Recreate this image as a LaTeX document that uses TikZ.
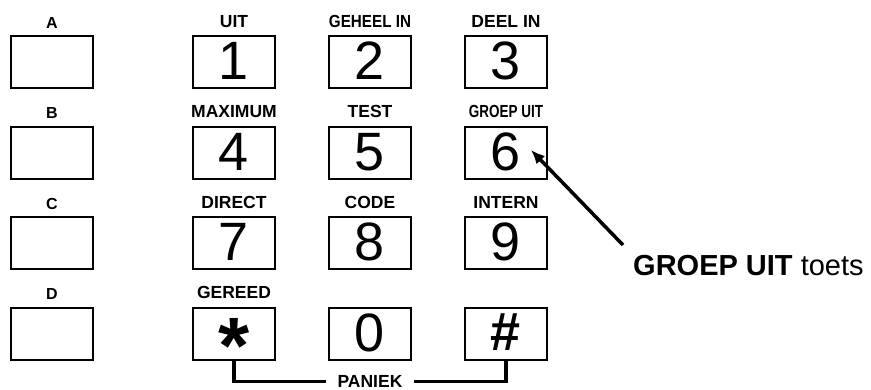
\documentclass[tikz,border=0pt]{standalone}
\usepackage{fontspec}
\setmainfont{Liberation Sans}
\usetikzlibrary{arrows.meta,positioning}

\begin{document}
\begin{tikzpicture}[x=1pt,y=-1pt,>=Latex,
  keybox/.style={draw,line width=2pt,minimum width=82pt,minimum height=52pt,inner sep=0pt,text depth=3pt,font=\fontsize{54}{54}\selectfont},
  keylabel/.style={anchor=base,inner sep=0pt,font=\fontsize{17.5}{18}\selectfont\bfseries},
  letterlabel/.style={anchor=base,inner sep=0pt,font=\fontsize{16}{16}\selectfont\bfseries},
  thickline/.style={line width=3.5pt}]
\useasboundingbox (0,0) rectangle (871,390);
% letter keys
\node[keybox] (kA) at (52,62.5) {};
\node[keybox] (kB) at (52,153) {};
\node[keybox] (kC) at (52,243.5) {};
\node[keybox] (kD) at (52,334) {};
\node[letterlabel] (lA) at ([yshift=7pt]kA.north) {A};
\node[letterlabel] (lB) at ([yshift=7pt]kB.north) {B};
\node[letterlabel] (lC) at ([yshift=7pt]kC.north) {C};
\node[letterlabel] (lD) at ([yshift=7pt]kD.north) {D};
% number keys
\node[keybox] (k1) at (234,62.5) {1};
\node[keybox] (k2) at (370,62.5) {2};
\node[keybox] (k3) at (506,62.5) {3};
\node[keybox] (k4) at (234,153) {4};
\node[keybox] (k5) at (370,153) {5};
\node[keybox] (k6) at (506,153) {6};
\node[keybox] (k7) at (234,243.5) {7};
\node[keybox] (k8) at (370,243.5) {8};
\node[keybox] (k9) at (506,243.5) {9};
\node[keybox,text height=16pt,text depth=16pt] (kstar) at (234,334) {\raisebox{-40pt}{\fontsize{80}{80}\selectfont\bfseries *}};
\node[keybox] (k0) at (370,334) {0};
\node[keybox,font=\fontsize{54}{54}\selectfont\bfseries] (khash) at (506,334) {\#};
% key functions
\node[keylabel] (l1) at ([yshift=8pt]k1.north) {UIT};
\node[keylabel] (l2) at ([yshift=8pt]k2.north) {\scalebox{0.87}[1]{GEHEEL IN}};
\node[keylabel] (l3) at ([yshift=8pt]k3.north) {DEEL IN};
\node[keylabel] (l4) at ([yshift=8pt]k4.north) {MAXIMUM};
\node[keylabel] (l5) at ([yshift=8pt]k5.north) {TEST};
\node[keylabel] (l6) at ([yshift=8pt]k6.north) {\scalebox{0.77}[1]{GROEP UIT}};
\node[keylabel] (l7) at ([yshift=8pt]k7.north) {DIRECT};
\node[keylabel] (l8) at ([yshift=8pt]k8.north) {CODE};
\node[keylabel] (l9) at ([yshift=8pt]k9.north) {INTERN};
\node[keylabel] (lstar) at ([yshift=8pt]kstar.north) {GEREED};
% panic combination
\node[inner xsep=11pt,inner ysep=0pt,font=\fontsize{17.5}{18}\selectfont\bfseries] (paniek) at (370,381.5) {PANIEK};
\draw[thickline] (kstar.south) |- (paniek.west);
\draw[thickline] (khash.south) |- (paniek.east);
% callout
\node[anchor=base west,inner sep=0pt,font=\fontsize{29}{29}\selectfont] (note) at (633,276) {\textbf{GROEP UIT} toets};
\coordinate (tail) at (623,245);
\draw[thickline,-{Latex[length=14pt,width=12pt]}] (tail) -- ([xshift=-17pt,yshift=3pt]k6.east);
\end{tikzpicture}
\end{document}
